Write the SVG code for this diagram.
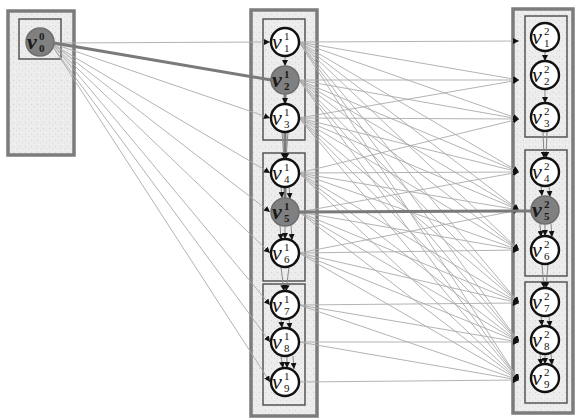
<svg xmlns="http://www.w3.org/2000/svg" width="577" height="418" viewBox="0 0 577 418">
<defs>
<marker id="a" viewBox="0 0 10 10" refX="10" refY="5" markerWidth="6" markerHeight="6" orient="auto" markerUnits="userSpaceOnUse"><path d="M0,0 L10,5 L0,10 z" fill="#111"/></marker>
<pattern id="st" width="6" height="6" patternUnits="userSpaceOnUse"><rect width="6" height="6" fill="#ececec"/><rect x="1" y="2" width="1" height="1" fill="#d4d4d4"/><rect x="4" y="4" width="1" height="1" fill="#dadada"/><rect x="3" y="0" width="1" height="1" fill="#f6f6f6"/></pattern>
</defs>
<style>
.outer{fill:url(#st);stroke:#7c7c7c;stroke-width:3.5}
.inner{fill:none;stroke:#555;stroke-width:1.5}
.e{fill:none;stroke:#aaaaaa;stroke-width:0.9;marker-end:url(#a)}
.ev{fill:none;stroke:#888;stroke-width:1;marker-end:url(#a)}
.thick{fill:none;stroke:#7a7a7a;stroke-width:3}
.n{fill:#fff;stroke:#111;stroke-width:2.4}
.g{fill:#808080;stroke:#6e6e6e;stroke-width:1.5}
.v{font-family:"Liberation Serif",serif;font-style:italic;font-size:22px;fill:#111}
.s{font-family:"Liberation Serif",serif;font-size:11px;fill:#111}
.gv{font-weight:bold;fill:#1a1a1a}
</style>
<rect class="outer" x="8" y="11" width="66" height="144"/>
<rect class="inner" x="19" y="19" width="42" height="40"/>
<rect class="outer" x="251" y="10" width="66" height="406"/>
<rect class="inner" x="263" y="19" width="42" height="121"/>
<rect class="inner" x="263" y="153" width="42" height="128"/>
<rect class="inner" x="263" y="284" width="42" height="121"/>
<rect class="outer" x="513" y="9" width="60" height="404"/>
<rect class="inner" x="525" y="16" width="42" height="121"/>
<rect class="inner" x="525" y="150" width="42" height="126"/>
<rect class="inner" x="525" y="282" width="42" height="121"/>
<g id="connectors">
<path class="e" d="M54,43 L270,42"/>
<path class="e" d="M54,44 L270,118"/>
<path class="e" d="M54,45 L270,173"/>
<path class="e" d="M54,45 L270,212"/>
<path class="e" d="M54,46 L270,253"/>
<path class="e" d="M54,46 L270,305"/>
<path class="e" d="M53,47 L270,342"/>
<path class="e" d="M53,47 L270,382"/>
<path class="thick" d="M54,43 L271,80"/>
<path class="e" d="M299,42 L519,41"/><path class="e" d="M299,42 L519,80"/><path class="e" d="M299,42 L519,119"/><path class="e" d="M299,42 L519,172"/><path class="e" d="M299,42 L519,210"/><path class="e" d="M299,42 L519,250"/><path class="e" d="M299,42 L519,303"/><path class="e" d="M299,42 L519,342"/><path class="e" d="M299,42 L519,380"/>
<path class="e" d="M299,80 L519,80"/><path class="e" d="M299,80 L519,119"/><path class="e" d="M299,80 L519,172"/><path class="e" d="M299,80 L519,210"/><path class="e" d="M299,80 L519,250"/><path class="e" d="M299,80 L519,303"/><path class="e" d="M299,80 L519,342"/><path class="e" d="M299,80 L519,380"/>
<path class="e" d="M299,118 L519,80"/><path class="e" d="M299,118 L519,119"/><path class="e" d="M299,118 L519,172"/><path class="e" d="M299,118 L519,210"/><path class="e" d="M299,118 L519,250"/><path class="e" d="M299,118 L519,303"/><path class="e" d="M299,118 L519,342"/><path class="e" d="M299,118 L519,380"/>
<path class="e" d="M299,173 L519,119"/><path class="e" d="M299,173 L519,172"/><path class="e" d="M299,173 L519,210"/><path class="e" d="M299,173 L519,250"/><path class="e" d="M299,173 L519,303"/><path class="e" d="M299,173 L519,342"/><path class="e" d="M299,173 L519,380"/>
<path class="e" d="M299,212 L519,172"/><path class="e" d="M299,212 L519,250"/><path class="e" d="M299,212 L519,303"/><path class="e" d="M299,212 L519,342"/><path class="e" d="M299,212 L519,380"/>
<path class="e" d="M299,253 L519,210"/><path class="e" d="M299,253 L519,250"/><path class="e" d="M299,253 L519,303"/><path class="e" d="M299,253 L519,342"/><path class="e" d="M299,253 L519,380"/>
<path class="e" d="M299,305 L519,303"/><path class="e" d="M299,305 L519,342"/><path class="e" d="M299,305 L519,380"/>
<path class="e" d="M299,342 L519,342"/><path class="e" d="M299,342 L519,380"/>
<path class="e" d="M299,382 L519,380"/>
<path class="thick" d="M299,212 L531,211"/>
<path class="thick" d="M285,94 L285,199"/>
<path class="ev" d="M285,56 L285,66"/>
<path class="ev" d="M285,94 L285,104"/>
<path class="ev" d="M282,132 L284,159"/>
<path class="ev" d="M288,132 L286,159"/>
<path class="ev" d="M281,186 L282,198"/>
<path class="ev" d="M289,186 L290,199"/>
<path class="ev" d="M280,225 L281,240"/>
<path class="ev" d="M285,226 L285,239"/>
<path class="ev" d="M291,225 L292,240"/>
<path class="ev" d="M281,267 L284,291"/>
<path class="ev" d="M289,267 L286,291"/>
<path class="ev" d="M281,319 L282,328"/>
<path class="ev" d="M289,319 L290,329"/>
<path class="ev" d="M281,356 L283,368"/>
<path class="ev" d="M287,356 L287,368"/>
<path class="ev" d="M293,356 L294,369"/>
<path class="ev" d="M545,51 L545,61"/>
<path class="ev" d="M545,89 L545,103"/>
<path class="ev" d="M543,131 L544,158"/>
<path class="ev" d="M547,131 L546,158"/>
<path class="ev" d="M541,186 L542,196"/>
<path class="ev" d="M549,186 L550,197"/>
<path class="ev" d="M540,224 L541,237"/>
<path class="ev" d="M545,224 L545,236"/>
<path class="ev" d="M551,224 L552,237"/>
<path class="ev" d="M542,264 L544,288"/>
<path class="ev" d="M548,264 L546,288"/>
<path class="ev" d="M541,316 L542,326"/>
<path class="ev" d="M549,316 L550,327"/>
<path class="ev" d="M540,354 L541,365"/>
<path class="ev" d="M545,354 L545,364"/>
<path class="ev" d="M551,354 L552,365"/>
</g>
<g id="v0_0"><circle class="g" cx="40" cy="42" r="14"/><text class="v gv" x="27" y="49">v</text><text class="s gv" x="39" y="40">0</text><text class="s gv" x="39" y="52">0</text></g>
<g id="v1_1"><circle class="n" cx="285" cy="42" r="14"/><text class="v" x="272" y="49">v</text><text class="s" x="284" y="40">1</text><text class="s" x="284" y="52">1</text></g>
<g id="v2_1"><circle class="g" cx="285" cy="80" r="14"/><text class="v gv" x="272" y="87">v</text><text class="s gv" x="284" y="78">1</text><text class="s gv" x="284" y="90">2</text></g>
<g id="v3_1"><circle class="n" cx="285" cy="118" r="14"/><text class="v" x="272" y="125">v</text><text class="s" x="284" y="116">1</text><text class="s" x="284" y="128">3</text></g>
<g id="v4_1"><circle class="n" cx="285" cy="173" r="14"/><text class="v" x="272" y="180">v</text><text class="s" x="284" y="171">1</text><text class="s" x="284" y="183">4</text></g>
<g id="v5_1"><circle class="g" cx="285" cy="212" r="14"/><text class="v gv" x="272" y="219">v</text><text class="s gv" x="284" y="210">1</text><text class="s gv" x="284" y="222">5</text></g>
<g id="v6_1"><circle class="n" cx="285" cy="253" r="14"/><text class="v" x="272" y="260">v</text><text class="s" x="284" y="251">1</text><text class="s" x="284" y="263">6</text></g>
<g id="v7_1"><circle class="n" cx="285" cy="305" r="14"/><text class="v" x="272" y="312">v</text><text class="s" x="284" y="303">1</text><text class="s" x="284" y="315">7</text></g>
<g id="v8_1"><circle class="n" cx="285" cy="342" r="14"/><text class="v" x="272" y="349">v</text><text class="s" x="284" y="340">1</text><text class="s" x="284" y="352">8</text></g>
<g id="v9_1"><circle class="n" cx="285" cy="382" r="14"/><text class="v" x="272" y="389">v</text><text class="s" x="284" y="380">1</text><text class="s" x="284" y="392">9</text></g>
<g id="v1_2"><circle class="n" cx="545" cy="37" r="14"/><text class="v" x="532" y="44">v</text><text class="s" x="544" y="35">2</text><text class="s" x="544" y="47">1</text></g>
<g id="v2_2"><circle class="n" cx="545" cy="75" r="14"/><text class="v" x="532" y="82">v</text><text class="s" x="544" y="73">2</text><text class="s" x="544" y="85">2</text></g>
<g id="v3_2"><circle class="n" cx="545" cy="117" r="14"/><text class="v" x="532" y="124">v</text><text class="s" x="544" y="115">2</text><text class="s" x="544" y="127">3</text></g>
<g id="v4_2"><circle class="n" cx="545" cy="172" r="14"/><text class="v" x="532" y="179">v</text><text class="s" x="544" y="170">2</text><text class="s" x="544" y="182">4</text></g>
<g id="v5_2"><circle class="g" cx="545" cy="210" r="14"/><text class="v gv" x="532" y="217">v</text><text class="s gv" x="544" y="208">2</text><text class="s gv" x="544" y="220">5</text></g>
<g id="v6_2"><circle class="n" cx="545" cy="250" r="14"/><text class="v" x="532" y="257">v</text><text class="s" x="544" y="248">2</text><text class="s" x="544" y="260">6</text></g>
<g id="v7_2"><circle class="n" cx="545" cy="302" r="14"/><text class="v" x="532" y="309">v</text><text class="s" x="544" y="300">2</text><text class="s" x="544" y="312">7</text></g>
<g id="v8_2"><circle class="n" cx="545" cy="340" r="14"/><text class="v" x="532" y="347">v</text><text class="s" x="544" y="338">2</text><text class="s" x="544" y="350">8</text></g>
<g id="v9_2"><circle class="n" cx="545" cy="378" r="14"/><text class="v" x="532" y="385">v</text><text class="s" x="544" y="376">2</text><text class="s" x="544" y="388">9</text></g>
</svg>
